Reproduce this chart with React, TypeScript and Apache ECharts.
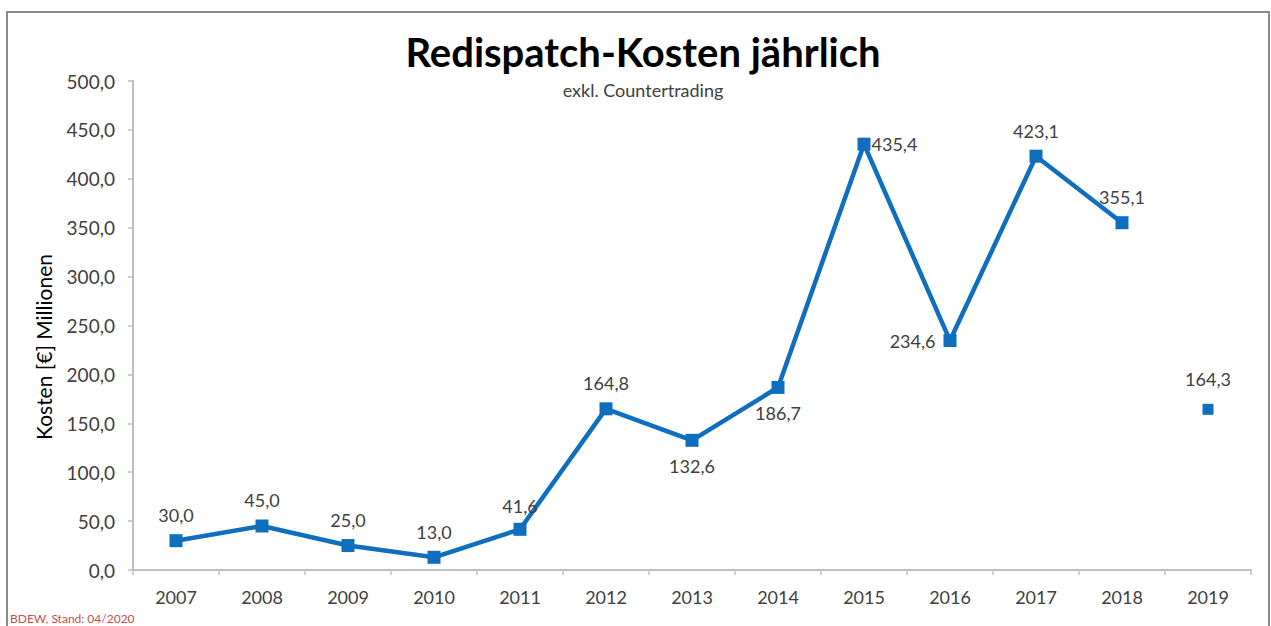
import React, { useEffect, useRef } from "react";
import * as echarts from "echarts";

const years = ["2007", "2008", "2009", "2010", "2011", "2012", "2013", "2014", "2015", "2016", "2017", "2018", "2019"];
const costs: (number | null)[] = [30.0, 45.0, 25.0, 13.0, 41.6, 164.8, 132.6, 186.7, 435.4, 234.6, 423.1, 355.1, null];
const costs2019: (number | null)[] = [null, null, null, null, null, null, null, null, null, null, null, null, 164.3];
const labelPos = ["top", "top", "top", "top", "top", "top", "bottom", "bottom", "right", "left", "top", "top", "top"];
const labelDist = [10, 10, 10, 10, 8, 10, 10, 10, 1, 8, 10, 10, 10];

const BLUE = "#0F6FBE";
const TXT = "#404040";
const FONT = "Lato, 'Open Sans', sans-serif";

export default function App() {
  const ref = useRef<HTMLDivElement>(null);
  useEffect(() => {
    if (!ref.current) return;
    const chart = echarts.init(ref.current, null, { renderer: "svg" });
    const fmt = (v: number) => v.toFixed(1).replace(".", ",");
    const mainData = costs.map((v, i) =>
      v === null ? null : { value: v, label: { position: labelPos[i] as any, distance: labelDist[i] } }
    );
    chart.setOption({
      animation: false,
      backgroundColor: "#fff",
      textStyle: { fontFamily: FONT },
      title: {
        text: "Redispatch-Kosten jährlich",
        subtext: "exkl. Countertrading",
        left: 638,
        textAlign: "center",
        top: 27,
        itemGap: 9,
        textStyle: { fontSize: 40, fontWeight: "bold", color: "#000", fontFamily: FONT },
        subtextStyle: { fontSize: 18, color: TXT, fontFamily: FONT },
      },
      grid: { left: 133, right: 20, top: 81, bottom: 56, containLabel: false },
      xAxis: {
        type: "category",
        data: years,
        boundaryGap: true,
        axisLine: { lineStyle: { color: "#BFBFBF", width: 2 } },
        axisTick: { show: true, length: 5, lineStyle: { color: "#BFBFBF", width: 1.5 } },
        axisLabel: { color: TXT, fontSize: 18, margin: 18, fontFamily: FONT },
      },
      yAxis: {
        type: "value",
        min: 0,
        max: 500,
        interval: 50,
        axisLine: { show: true, lineStyle: { color: "#BFBFBF", width: 2 } },
        axisTick: { show: true, length: 5, inside: false, lineStyle: { color: "#BFBFBF", width: 1.5 } },
        splitLine: { show: false },
        axisLabel: { color: TXT, fontSize: 19, margin: 18, formatter: (v: number) => fmt(v), fontFamily: FONT },
      },
      series: [
        {
          type: "line",
          data: mainData,
          connectNulls: false,
          symbol: "rect",
          symbolSize: 13,
          lineStyle: { color: BLUE, width: 4.5 },
          itemStyle: { color: BLUE },
          label: {
            show: true,
            fontSize: 18,
            color: TXT,
            fontFamily: FONT,
            formatter: (p: any) => fmt(p.value),
          },
        },
        {
          type: "line",
          data: costs2019,
          symbol: "rect",
          symbolSize: 11,
          lineStyle: { color: BLUE, width: 4.5 },
          itemStyle: { color: BLUE },
          label: {
            show: true,
            position: "top",
            fontSize: 18,
            color: TXT,
            distance: 16,
            fontFamily: FONT,
            formatter: (p: any) => fmt(p.value),
          },
        },
      ],
      graphic: [
        {
          type: "rect",
          shape: { x: 7, y: 12, width: 1262, height: 640 },
          style: { fill: "none", stroke: "#8A8A8A", lineWidth: 2 },
          silent: true,
        },
        {
          type: "text",
          x: 43,
          y: 347,
          rotation: Math.PI / 2,
          style: {
            text: "Kosten [€] Millionen",
            fill: "#000",
            fontSize: 21,
            fontFamily: FONT,
            align: "center",
            verticalAlign: "middle",
          },
        },
        {
          type: "text",
          x: 10,
          y: 612,
          style: { text: "BDEW, Stand: 04/2020", fill: "#C0504D", fontSize: 12, fontFamily: FONT },
        },
      ],
    });
    return () => chart.dispose();
  }, []);
  return <div ref={ref} style={{ position: "absolute", left: 0, top: 0, width: 1271, height: 626 }} />;
}
